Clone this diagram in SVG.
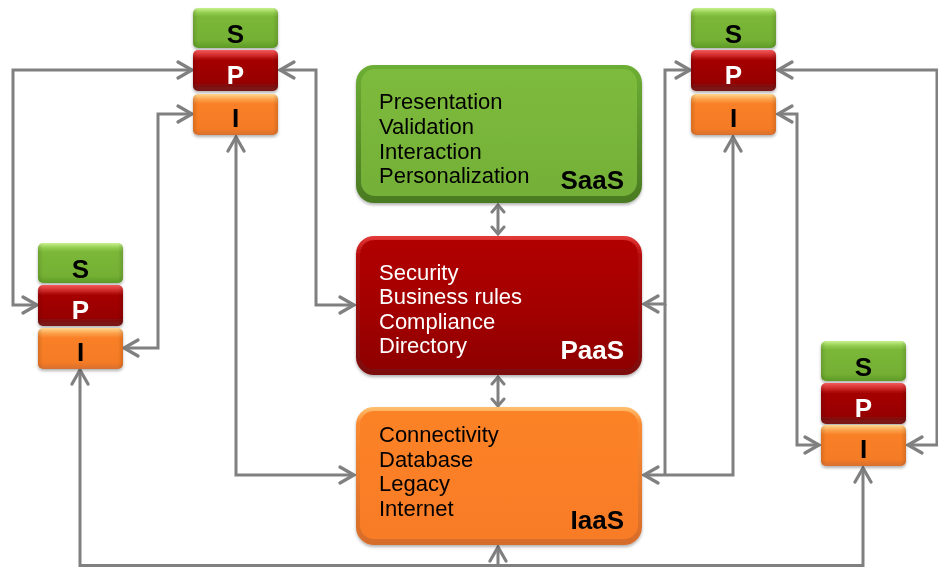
<svg xmlns="http://www.w3.org/2000/svg" width="938" height="568" viewBox="0 0 938 568">
  <defs>
    <style>
      .conn { fill: none; stroke: #808080; stroke-width: 3; stroke-linejoin: miter; }
      .arr { marker-start: url(#chev); marker-end: url(#chev); }
      .arr-end { marker-end: url(#chev); }
      .small { marker-start: url(#chevSm); marker-end: url(#chevSm); }
      .tag { font-family: "Liberation Sans", Arial, sans-serif; font-weight: bold; font-size: 26px; text-anchor: middle; }
      .dark { fill: #000; }
      .light { fill: #fff; }
      .list { font-family: "Liberation Sans", Arial, sans-serif; font-size: 22px; }
      .title { font-family: "Liberation Sans", Arial, sans-serif; font-weight: bold; font-size: 26px; text-anchor: end; }
    </style>

    <!-- open chevron arrowheads -->
    <marker id="chev" viewBox="-18 -11 20 22" markerWidth="20" markerHeight="22" refX="0" refY="0"
            markerUnits="userSpaceOnUse" orient="auto-start-reverse">
      <path d="M-14,-8 L0,0 L-14,8" fill="none" stroke="#808080" stroke-width="3.2" stroke-linecap="round"/>
    </marker>
    <marker id="chevSm" viewBox="-10 -8 12 16" markerWidth="12" markerHeight="16" refX="0" refY="0"
            markerUnits="userSpaceOnUse" orient="auto-start-reverse">
      <path d="M-7,-6 L0,0 L-7,6" fill="none" stroke="#808080" stroke-width="3" stroke-linecap="round"/>
    </marker>

    <!-- small stack tile fills -->
    <linearGradient id="gS" x1="0" y1="0" x2="0" y2="1">
      <stop offset="0" stop-color="#c9f28e"/>
      <stop offset="0.12" stop-color="#92cc4e"/>
      <stop offset="0.22" stop-color="#7bb738"/>
      <stop offset="0.82" stop-color="#74b033"/>
      <stop offset="1" stop-color="#5d9a27"/>
    </linearGradient>
    <linearGradient id="gP" x1="0" y1="0" x2="0" y2="1">
      <stop offset="0" stop-color="#f45a5a"/>
      <stop offset="0.13" stop-color="#d02a2a"/>
      <stop offset="0.24" stop-color="#a50404"/>
      <stop offset="0.8" stop-color="#970000"/>
      <stop offset="0.88" stop-color="#7f1010"/>
      <stop offset="1" stop-color="#7a1818"/>
    </linearGradient>
    <linearGradient id="gI" x1="0" y1="0" x2="0" y2="1">
      <stop offset="0" stop-color="#ffd890"/>
      <stop offset="0.13" stop-color="#fca04a"/>
      <stop offset="0.24" stop-color="#f98026"/>
      <stop offset="0.84" stop-color="#f57b25"/>
      <stop offset="1" stop-color="#d86f30"/>
    </linearGradient>
    <linearGradient id="gSide" x1="0" y1="0" x2="1" y2="0">
      <stop offset="0" stop-color="#000" stop-opacity="0.12"/>
      <stop offset="0.06" stop-color="#000" stop-opacity="0"/>
      <stop offset="0.94" stop-color="#000" stop-opacity="0"/>
      <stop offset="1" stop-color="#000" stop-opacity="0.12"/>
    </linearGradient>

    <!-- big layer box fills -->
    <linearGradient id="saasRim" x1="0" y1="0" x2="0" y2="1">
      <stop offset="0" stop-color="#6cae34"/>
      <stop offset="1" stop-color="#4a7a22"/>
    </linearGradient>
    <linearGradient id="saasFill" x1="0" y1="0" x2="0" y2="1">
      <stop offset="0" stop-color="#7dbb3c"/>
      <stop offset="1" stop-color="#74b038"/>
    </linearGradient>
    <linearGradient id="paasRim" x1="0" y1="0" x2="0" y2="1">
      <stop offset="0" stop-color="#e53a3a"/>
      <stop offset="0.15" stop-color="#b30808"/>
      <stop offset="1" stop-color="#7c0a0a"/>
    </linearGradient>
    <linearGradient id="paasFill" x1="0" y1="0" x2="0" y2="1">
      <stop offset="0" stop-color="#b10606"/>
      <stop offset="0.6" stop-color="#a10202"/>
      <stop offset="1" stop-color="#8e0000"/>
    </linearGradient>
    <linearGradient id="iaasRim" x1="0" y1="0" x2="0" y2="1">
      <stop offset="0" stop-color="#ffc070"/>
      <stop offset="0.12" stop-color="#fb8a30"/>
      <stop offset="1" stop-color="#d66c2a"/>
    </linearGradient>
    <linearGradient id="iaasFill" x1="0" y1="0" x2="0" y2="1">
      <stop offset="0" stop-color="#fc8228"/>
      <stop offset="1" stop-color="#f87c26"/>
    </linearGradient>

    <filter id="shadow" x="-10%" y="-10%" width="120%" height="130%">
      <feDropShadow dx="0" dy="2" stdDeviation="1.8" flood-color="#000" flood-opacity="0.3"/>
    </filter>
  </defs>

  <rect width="938" height="568" fill="#fff"/>

  <!-- connectors -->
  <g id="connectors">
    <path class="conn arr" d="M192,70 H13 V305 H37"/>
    <path class="conn arr" d="M192,114 H158 V348 H124"/>
    <path class="conn arr" d="M236,137 V475 H354"/>
    <path class="conn arr" d="M280,70 H316 V305 H354"/>
    <path class="conn arr" d="M690,70 H665 V304 H644"/>
    <path class="conn" d="M665,304 V475"/>
    <path class="conn arr" d="M733,137 V475 H644"/>
    <path class="conn arr" d="M778,114 H797 V445 H819"/>
    <path class="conn arr" d="M778,70 H937 V445 H908"/>
    <path class="conn arr" d="M80,370 V565.5 H863 V468"/>
    <path class="conn arr-end" d="M498,565.5 V547"/>
    <path class="conn small" d="M498,205 V234"/>
    <path class="conn small" d="M498,377 V406"/>
  </g>

  <!-- layer boxes -->
  <g id="saas" filter="url(#shadow)">
    <rect x="356" y="65" width="286" height="138" rx="18" fill="url(#saasRim)"/>
    <rect x="361" y="69" width="276" height="127" rx="14" fill="url(#saasFill)"/>
    <text class="list" fill="#000">
      <tspan x="379" y="109">Presentation</tspan>
      <tspan x="379" y="134">Validation</tspan>
      <tspan x="379" y="159">Interaction</tspan>
      <tspan x="379" y="183">Personalization</tspan>
    </text>
    <text class="title" x="624" y="189" fill="#000">SaaS</text>
  </g>

  <g id="paas" filter="url(#shadow)">
    <rect x="356" y="236" width="286" height="139" rx="18" fill="url(#paasRim)"/>
    <rect x="360" y="240" width="278" height="129" rx="14" fill="url(#paasFill)"/>
    <text class="list" fill="#fff">
      <tspan x="379" y="280">Security</tspan>
      <tspan x="379" y="304">Business rules</tspan>
      <tspan x="379" y="329">Compliance</tspan>
      <tspan x="379" y="353">Directory</tspan>
    </text>
    <text class="title" x="624" y="359" fill="#fff">PaaS</text>
  </g>

  <g id="iaas" filter="url(#shadow)">
    <rect x="356" y="407" width="286" height="138" rx="18" fill="url(#iaasRim)"/>
    <rect x="360" y="411" width="278" height="128" rx="14" fill="url(#iaasFill)"/>
    <text class="list" fill="#000">
      <tspan x="379" y="442">Connectivity</tspan>
      <tspan x="379" y="467">Database</tspan>
      <tspan x="379" y="491">Legacy</tspan>
      <tspan x="379" y="516">Internet</tspan>
    </text>
    <text class="title" x="624" y="529" fill="#000">IaaS</text>
  </g>

  <!-- S / P / I stacks -->
  <g id="stack-top-left" transform="translate(193,8)" filter="url(#shadow)">
    <rect width="85" height="40" rx="5" fill="url(#gS)"/>
    <rect width="85" height="40" rx="5" fill="url(#gSide)"/>
    <text class="tag dark" x="42.5" y="35">S</text>
    <rect y="42" width="85" height="41" rx="5" fill="url(#gP)"/>
    <rect y="42" width="85" height="41" rx="5" fill="url(#gSide)"/>
    <text class="tag light" x="42.5" y="76">P</text>
    <rect y="86" width="85" height="41" rx="5" fill="url(#gI)"/>
    <rect y="86" width="85" height="41" rx="5" fill="url(#gSide)"/>
    <text class="tag dark" x="42.5" y="119">I</text>
  </g>

  <g id="stack-left" transform="translate(38,243)" filter="url(#shadow)">
    <rect width="85" height="40" rx="5" fill="url(#gS)"/>
    <rect width="85" height="40" rx="5" fill="url(#gSide)"/>
    <text class="tag dark" x="42.5" y="35">S</text>
    <rect y="42" width="85" height="41" rx="5" fill="url(#gP)"/>
    <rect y="42" width="85" height="41" rx="5" fill="url(#gSide)"/>
    <text class="tag light" x="42.5" y="76">P</text>
    <rect y="85" width="85" height="41" rx="5" fill="url(#gI)"/>
    <rect y="85" width="85" height="41" rx="5" fill="url(#gSide)"/>
    <text class="tag dark" x="42.5" y="118">I</text>
  </g>

  <g id="stack-top-right" transform="translate(691,8)" filter="url(#shadow)">
    <rect width="85" height="40" rx="5" fill="url(#gS)"/>
    <rect width="85" height="40" rx="5" fill="url(#gSide)"/>
    <text class="tag dark" x="42.5" y="35">S</text>
    <rect y="42" width="85" height="41" rx="5" fill="url(#gP)"/>
    <rect y="42" width="85" height="41" rx="5" fill="url(#gSide)"/>
    <text class="tag light" x="42.5" y="76">P</text>
    <rect y="86" width="85" height="41" rx="5" fill="url(#gI)"/>
    <rect y="86" width="85" height="41" rx="5" fill="url(#gSide)"/>
    <text class="tag dark" x="42.5" y="119">I</text>
  </g>

  <g id="stack-right" transform="translate(821,341)" filter="url(#shadow)">
    <rect width="85" height="40" rx="5" fill="url(#gS)"/>
    <rect width="85" height="40" rx="5" fill="url(#gSide)"/>
    <text class="tag dark" x="42.5" y="35">S</text>
    <rect y="42" width="85" height="41" rx="5" fill="url(#gP)"/>
    <rect y="42" width="85" height="41" rx="5" fill="url(#gSide)"/>
    <text class="tag light" x="42.5" y="76">P</text>
    <rect y="84" width="85" height="41" rx="5" fill="url(#gI)"/>
    <rect y="84" width="85" height="41" rx="5" fill="url(#gSide)"/>
    <text class="tag dark" x="42.5" y="117">I</text>
  </g>
</svg>
